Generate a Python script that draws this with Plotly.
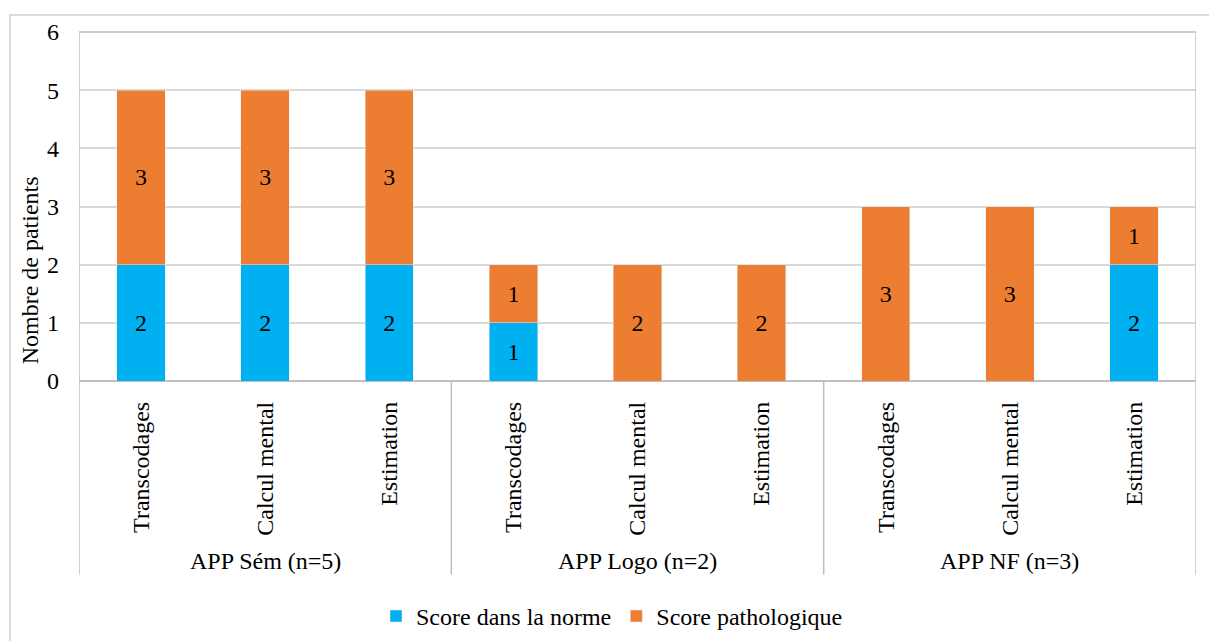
import plotly.graph_objects as go

categories = ["Transcodages", "Calcul mental", "Estimation"] * 3
groups = ["APP Sém (n=5)", "APP Logo (n=2)", "APP NF (n=3)"]
norme = [2, 2, 2, 1, 0, 0, 0, 0, 2]
patho = [3, 3, 3, 1, 2, 2, 3, 3, 1]
y_ticks = [0, 1, 2, 3, 4, 5, 6]

FONT = "Liberation Serif, Times New Roman, serif"
BLUE = "#00B0F0"
ORANGE = "#ED7D31"
GRID = "#D9D9D9"
AXIS = "#BFBFBF"
FS = 24

xs = list(range(len(categories)))

# vertical compensation for capture scaling
K = 651 / 641
W, H = 1209, 651
L, R = 79, 13
T, B = round(31 * K, 1), round(260 * K, 1)
pw, ph = W - L - R, H - T - B
def px_x(p):
    return (p - L) / pw
def px_y(p):
    return (H - B - p * K) / ph

fig = go.Figure()
fig.add_trace(go.Bar(
    x=xs, y=norme, name="Score dans la norme", marker_color=BLUE,
    width=0.39, text=[str(v) if v else "" for v in norme],
    textposition="inside", insidetextanchor="middle",
    textfont=dict(color="black", size=FS, family=FONT),
))
fig.add_trace(go.Bar(
    x=xs, y=patho, name="Score pathologique", marker_color=ORANGE,
    width=0.39, text=[str(v) if v else "" for v in patho],
    textposition="inside", insidetextanchor="middle",
    textfont=dict(color="black", size=FS, family=FONT),
))

shapes = []
# outer chart border (left and top visible)
shapes.append(dict(type="rect", xref="paper", yref="paper",
                   x0=px_x(10), x1=px_x(1240), y0=px_y(700), y1=px_y(14),
                   line=dict(color="#D0D0D0", width=1.5), layer="below"))
# plot top border
shapes.append(dict(type="line", xref="paper", yref="paper",
                   x0=0, x1=1, y0=1, y1=1, line=dict(color=AXIS, width=1.5)))
# vertical separators
for gx in [-0.5, 2.5, 5.5, 8.5]:
    top = 1 if gx in (-0.5, 8.5) else 0
    shapes.append(dict(type="line", xref="x", yref="paper",
                       x0=gx, x1=gx, y0=px_y(575), y1=top,
                       line=dict(color=AXIS, width=1.5)))

annotations = []
for i, g in enumerate(groups):
    annotations.append(dict(x=3 * i + 1, y=px_y(561), xref="x", yref="paper",
                            text=g, showarrow=False,
                            font=dict(size=FS, family=FONT, color="black"),
                            xanchor="center", yanchor="middle"))
annotations.append(dict(x=px_x(30), y=px_y(270), xref="paper", yref="paper",
                        text="Nombre de patients", textangle=-90, showarrow=False,
                        font=dict(size=FS, family=FONT, color="black"),
                        xanchor="center", yanchor="middle"))

fig.update_layout(
    width=W, height=H,
    margin=dict(l=L, r=R, t=T, b=B),
    barmode="stack",
    plot_bgcolor="white", paper_bgcolor="white",
    font=dict(family=FONT, size=FS, color="black"),
    showlegend=True,
    legend=dict(orientation="h", x=px_x(612), xanchor="center",
                y=px_y(617), yanchor="middle",
                font=dict(size=FS, family=FONT), traceorder="normal",
                itemwidth=30),
    shapes=shapes, annotations=annotations,
    xaxis=dict(tickvals=xs, ticktext=categories, tickangle=-90,
               range=[-0.5, 8.5], showgrid=False, zeroline=False,
               showline=False, ticks="", ticklabelstandoff=15,
               tickfont=dict(size=FS, family=FONT)),
    yaxis=dict(range=[0, 6], tickvals=y_ticks, showgrid=True,
               gridcolor=GRID, gridwidth=1.5, zeroline=True,
               zerolinecolor=AXIS, zerolinewidth=1.5, showline=False,
               ticks="", ticklabelstandoff=19,
               tickfont=dict(size=FS, family=FONT)),
)

fig.write_html(
    "out.html",
    config={"displayModeBar": False},
    post_script="document.body.style.margin='0';document.body.style.overflow='hidden';",
)
